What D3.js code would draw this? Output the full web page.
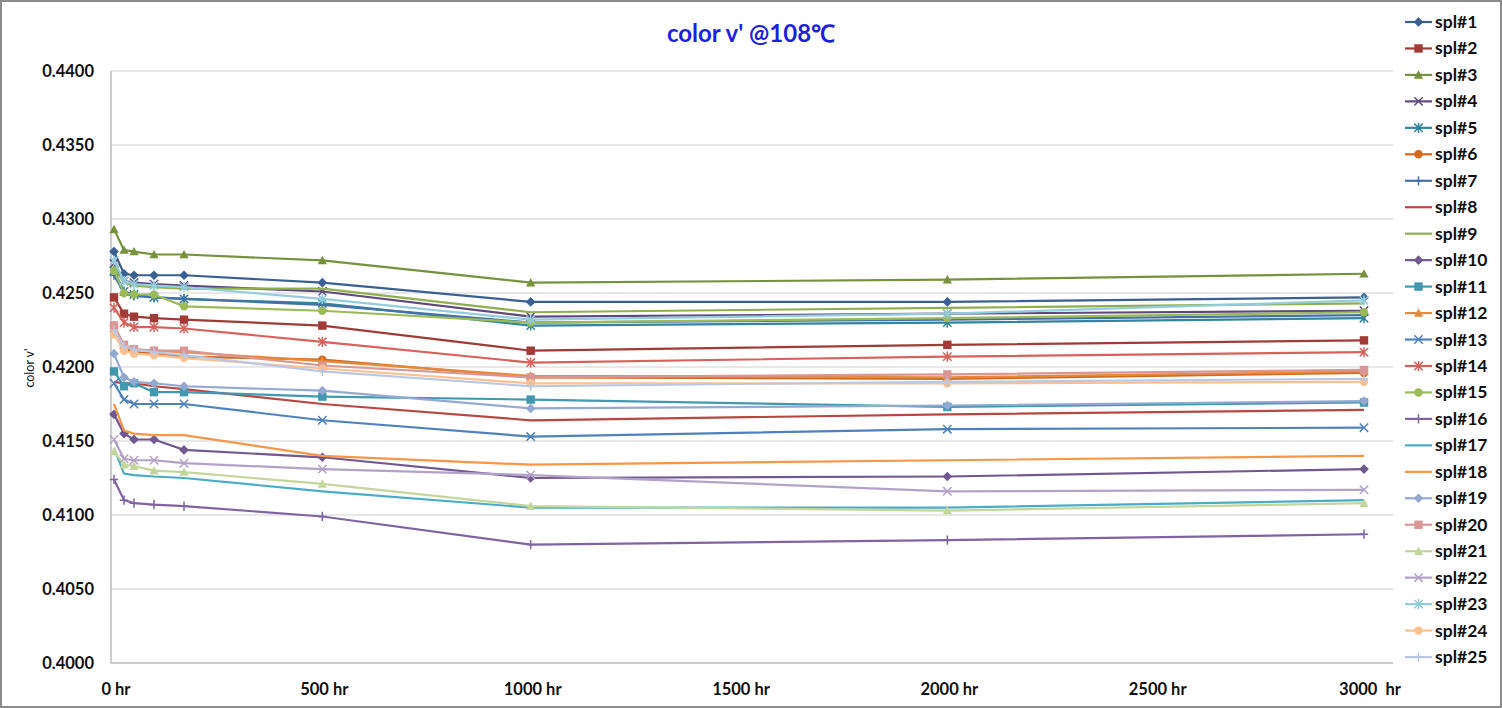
<!DOCTYPE html>
<html><head><meta charset="utf-8">
<script src="https://cdn.jsdelivr.net/npm/d3@7"></script>
<style>
html,body{margin:0;padding:0;background:#fff;}
svg{display:block;}
text{font-family:Lato,"Open Sans",sans-serif;}
</style></head>
<body>
<svg id="chart" width="1502" height="708"></svg>
<script>
const hours = [0, 24, 48, 96, 168, 500, 1000, 2000, 3000];
const xTicks = [0, 500, 1000, 1500, 2000, 2500, 3000];
const xTickLabels = ["0 hr", "500 hr", "1000 hr", "1500 hr", "2000 hr", "2500 hr", "3000  hr"];
const yTicks = [0.4000, 0.4050, 0.4100, 0.4150, 0.4200, 0.4250, 0.4300, 0.4350, 0.4400];

const s1  = [0.4278, 0.4263, 0.4262, 0.4262, 0.4262, 0.4257, 0.4244, 0.4244, 0.4247];
const s2  = [0.4247, 0.4236, 0.4234, 0.4233, 0.4232, 0.4228, 0.4211, 0.4215, 0.4218];
const s3  = [0.4293, 0.4279, 0.4278, 0.4276, 0.4276, 0.4272, 0.4257, 0.4259, 0.4263];
const s4  = [0.4270, 0.4258, 0.4257, 0.4256, 0.4255, 0.4251, 0.4234, 0.4236, 0.4238];
const s5  = [0.4265, 0.4251, 0.4249, 0.4247, 0.4246, 0.4243, 0.4228, 0.4230, 0.4233];
const s6  = [0.4228, 0.4213, 0.4210, 0.4209, 0.4207, 0.4205, 0.4193, 0.4192, 0.4196];
const s7  = [0.4262, 0.4250, 0.4248, 0.4247, 0.4246, 0.4242, 0.4230, 0.4232, 0.4235];
const s8  = [0.4190, 0.4189, 0.4189, 0.4187, 0.4185, 0.4175, 0.4164, 0.4168, 0.4171];
const s9  = [0.4267, 0.4257, 0.4255, 0.4254, 0.4253, 0.4253, 0.4237, 0.4240, 0.4243];
const s10 = [0.4168, 0.4155, 0.4151, 0.4151, 0.4144, 0.4139, 0.4125, 0.4126, 0.4131];
const s11 = [0.4197, 0.4187, 0.4189, 0.4183, 0.4183, 0.4180, 0.4178, 0.4173, 0.4176];
const s12 = [0.4226, 0.4214, 0.4212, 0.4211, 0.4210, 0.4204, 0.4194, 0.4193, 0.4197];
const s13 = [0.4189, 0.4178, 0.4175, 0.4175, 0.4175, 0.4164, 0.4153, 0.4158, 0.4159];
const s14 = [0.4240, 0.4230, 0.4227, 0.4227, 0.4226, 0.4217, 0.4203, 0.4207, 0.4210];
const s15 = [0.4265, 0.4250, 0.4249, 0.4249, 0.4241, 0.4238, 0.4230, 0.4233, 0.4237];
const s16 = [0.4124, 0.4110, 0.4108, 0.4107, 0.4106, 0.4099, 0.4080, 0.4083, 0.4087];
const s17 = [0.4145, 0.4128, 0.4127, 0.4126, 0.4125, 0.4116, 0.4105, 0.4105, 0.4110];
const s18 = [0.4175, 0.4157, 0.4155, 0.4154, 0.4154, 0.4140, 0.4134, 0.4137, 0.4140];
const s19 = [0.4209, 0.4193, 0.4190, 0.4189, 0.4187, 0.4184, 0.4172, 0.4174, 0.4177];
const s20 = [0.4228, 0.4215, 0.4212, 0.4211, 0.4211, 0.4201, 0.4193, 0.4195, 0.4198];
const s21 = [0.4143, 0.4134, 0.4133, 0.4130, 0.4129, 0.4121, 0.4106, 0.4103, 0.4108];
const s22 = [0.4151, 0.4138, 0.4137, 0.4137, 0.4135, 0.4131, 0.4127, 0.4116, 0.4117];
const s23 = [0.4272, 0.4258, 0.4256, 0.4255, 0.4254, 0.4246, 0.4232, 0.4236, 0.4245];
const s24 = [0.4222, 0.4211, 0.4209, 0.4208, 0.4206, 0.4199, 0.4189, 0.4189, 0.4190];
const s25 = [0.4225, 0.4214, 0.4212, 0.4210, 0.4208, 0.4197, 0.4187, 0.4190, 0.4192];

const seriesValues = [s1,s2,s3,s4,s5,s6,s7,s8,s9,s10,s11,s12,s13,s14,s15,s16,s17,s18,s19,s20,s21,s22,s23,s24,s25];
const seriesNames = seriesValues.map((_, i) => "spl#" + (i + 1));
const colors = ["#3A5F93","#A03B38","#76923C","#5F497A","#31859C","#D2691E",
                "#4570A8","#B84744","#8FAE4E","#71588F","#4198AF","#E8893A",
                "#4F81BD","#D9605D","#9BBB59","#8064A2","#4BACC6","#F79646",
                "#93A9CF","#D99694","#C3D69B","#B3A2C7","#93CDDD","#FAC090","#B9C7E5"];
const markerCycle = ["diamond","square","triangle","x","star","circle","plus","none","none"];

const svg = d3.select("#chart");
const W = 1502, H = 708;
const plot = {left: 111, top: 71, right: 1393, bottom: 663};

svg.append("rect").attr("x",1).attr("y",1).attr("width",W-2).attr("height",H-2)
  .attr("fill","#fff").attr("stroke","#8C8C8C").attr("stroke-width",2);

const x = d3.scaleLinear().domain([0, 3000]).range([114, 1364]);
const y = d3.scaleLinear().domain([0.4000, 0.4400]).range([plot.bottom, plot.top]);

svg.append("g").selectAll("line").data(yTicks.slice(1)).join("line")
  .attr("x1", plot.left).attr("x2", plot.right)
  .attr("y1", d => y(d)).attr("y2", d => y(d))
  .attr("stroke", "#D0D0D0").attr("stroke-width", 1);

svg.append("line").attr("x1",plot.left).attr("x2",plot.left).attr("y1",plot.top).attr("y2",plot.bottom)
  .attr("stroke","#BDBDBD").attr("stroke-width",1.5);
svg.append("line").attr("x1",plot.left).attr("x2",plot.right).attr("y1",plot.bottom).attr("y2",plot.bottom)
  .attr("stroke","#BDBDBD").attr("stroke-width",1.5);

svg.append("g").selectAll("text").data(yTicks).join("text")
  .attr("x", 94).attr("y", d => y(d) + 6)
  .attr("text-anchor","end").attr("font-size","16.5px").attr("font-weight","bold").attr("fill","#111")
  .text(d => d3.format(".4f")(d));

svg.append("g").selectAll("text").data(xTicks).join("text")
  .attr("x", (d,i) => x(d) + (i === xTicks.length-1 ? 6 : 2)).attr("y", 695)
  .attr("text-anchor","middle").attr("font-size","16.5px").attr("font-weight","bold").attr("fill","#111")
  .style("white-space","pre")
  .text((d,i) => xTickLabels[i]);

svg.append("text").attr("x", 751).attr("y", 42).attr("text-anchor","middle")
  .attr("font-size","24px").attr("font-weight","bold").attr("fill","#1F1FE0")
  .text("color v' @108℃");

svg.append("text").attr("transform","translate(34,368) rotate(-90)").attr("text-anchor","middle")
  .attr("font-size","12.5px").attr("fill","#111").text("color v'");

function drawMarker(g, type, cx, cy, color, r) {
  if (type === "diamond") {
    g.append("path").attr("d", `M${cx},${cy-r*1.15}L${cx+r*1.15},${cy}L${cx},${cy+r*1.15}L${cx-r*1.15},${cy}Z`).attr("fill",color);
  } else if (type === "square") {
    g.append("rect").attr("x",cx-r).attr("y",cy-r).attr("width",2*r).attr("height",2*r).attr("fill",color);
  } else if (type === "triangle") {
    g.append("path").attr("d", `M${cx},${cy-r*1.1}L${cx+r*1.1},${cy+r*0.9}L${cx-r*1.1},${cy+r*0.9}Z`).attr("fill",color);
  } else if (type === "circle") {
    g.append("circle").attr("cx",cx).attr("cy",cy).attr("r",r).attr("fill",color);
  } else if (type === "x") {
    g.append("path").attr("d", `M${cx-r},${cy-r}L${cx+r},${cy+r}M${cx-r},${cy+r}L${cx+r},${cy-r}`)
      .attr("stroke",color).attr("stroke-width",1.5).attr("fill","none");
  } else if (type === "star") {
    g.append("path").attr("d", `M${cx-r},${cy-r}L${cx+r},${cy+r}M${cx-r},${cy+r}L${cx+r},${cy-r}M${cx},${cy-r*1.2}L${cx},${cy+r*1.2}`)
      .attr("stroke",color).attr("stroke-width",1.5).attr("fill","none");
  } else if (type === "plus") {
    g.append("path").attr("d", `M${cx-r},${cy}L${cx+r},${cy}M${cx},${cy-r*1.1}L${cx},${cy+r*1.1}`)
      .attr("stroke",color).attr("stroke-width",1.5).attr("fill","none");
  }
}

const line = d3.line().x((d,i) => x(hours[i])).y(d => y(d));
const series = seriesValues.map((vals, i) => ({name: seriesNames[i], vals, color: colors[i], marker: markerCycle[i % 9]}));

const gLines = svg.append("g");
series.forEach(s => {
  const g = gLines.append("g");
  g.append("path").attr("d", line(s.vals)).attr("fill","none").attr("stroke", s.color).attr("stroke-width", 2.2);
  s.vals.forEach((v, j) => drawMarker(g, s.marker, x(hours[j]), y(v), s.color, 4.2));
});

const legY0 = 22, legStep = 26.46;
const leg = svg.append("g");
series.forEach((s, i) => {
  const cy = legY0 + i * legStep;
  const g = leg.append("g");
  g.append("line").attr("x1",1405).attr("x2",1432).attr("y1",cy).attr("y2",cy).attr("stroke",s.color).attr("stroke-width",2.2);
  drawMarker(g, s.marker, 1418.5, cy, s.color, 4.2);
  g.append("text").attr("x",1435).attr("y",cy+6).attr("font-size","17.5px").attr("font-weight","bold").attr("fill","#111").text(s.name);
});
</script>
</body></html>
